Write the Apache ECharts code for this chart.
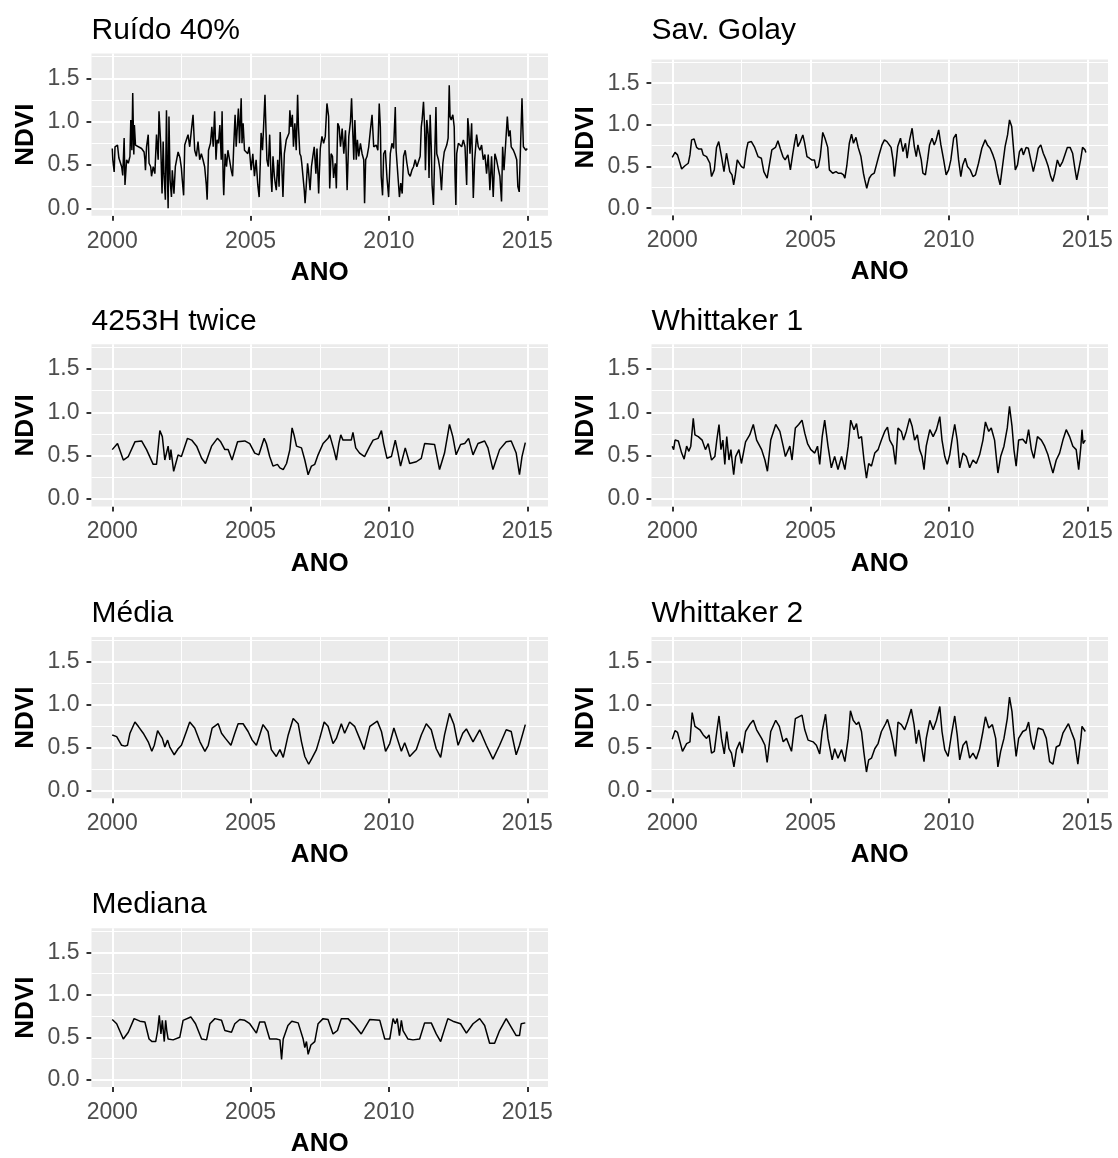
<!DOCTYPE html>
<html><head><meta charset="utf-8">
<script src="https://cdn.jsdelivr.net/npm/echarts@6/dist/echarts.min.js"></script>
<style>html,body{margin:0;padding:0;background:#fff}#c{width:1118px;height:1158px}</style>
</head><body><div id="c"></div>
<script>
// ---- tick values ----
const xTicks = [2000, 2005, 2010, 2015];
const xMinor = [2002.5, 2007.5, 2012.5];
const yTicks = [0, 0.5, 1.0, 1.5];
const yMinor = [0.25, 0.75, 1.25, 1.75];
const panelTitles = ['Ruído 40%', 'Sav. Golay', '4253H twice', 'Whittaker 1', 'Média', 'Whittaker 2', 'Mediana'];

// ---- series values [ano, NDVI] ----
const ruido40 = [[2000.00,0.69],[2000.02,0.56],[2000.07,0.42],[2000.10,0.71],[2000.19,0.73],[2000.24,0.58],[2000.34,0.48],[2000.38,0.38],[2000.43,0.81],[2000.46,0.27],[2000.52,0.56],[2000.58,0.52],[2000.64,0.60],[2000.67,1.02],[2000.71,0.67],[2000.74,1.33],[2000.78,0.62],[2000.80,0.96],[2000.84,0.73],[2000.91,0.73],[2001.06,0.69],[2001.15,0.65],[2001.18,0.56],[2001.20,0.44],[2001.24,0.71],[2001.30,0.85],[2001.33,0.52],[2001.39,0.48],[2001.42,0.37],[2001.48,0.48],[2001.54,0.40],[2001.60,0.85],[2001.66,0.56],[2001.69,1.12],[2001.75,0.75],[2001.80,0.17],[2001.84,0.77],[2001.87,0.40],[2001.92,0.10],[2001.96,1.13],[2001.99,0.44],[2002.02,0.00],[2002.05,1.06],[2002.09,0.33],[2002.14,0.13],[2002.17,0.44],[2002.23,0.17],[2002.28,0.48],[2002.38,0.65],[2002.45,0.58],[2002.50,0.46],[2002.53,0.33],[2002.58,0.15],[2002.62,0.73],[2002.68,0.79],[2002.74,0.85],[2002.80,0.71],[2002.86,0.90],[2002.92,1.08],[2002.98,0.67],[2003.04,0.60],[2003.10,0.77],[2003.16,0.56],[2003.22,0.63],[2003.28,0.56],[2003.34,0.48],[2003.40,0.27],[2003.43,0.10],[2003.48,0.67],[2003.55,0.75],[2003.60,0.94],[2003.65,0.71],[2003.70,1.12],[2003.75,0.56],[2003.79,0.79],[2003.84,0.75],[2003.89,0.96],[2003.94,0.56],[2003.97,1.12],[2004.01,0.33],[2004.03,0.15],[2004.08,0.63],[2004.13,0.48],[2004.18,0.67],[2004.24,0.56],[2004.30,0.44],[2004.35,0.37],[2004.39,0.71],[2004.44,1.08],[2004.48,0.71],[2004.51,0.88],[2004.56,1.15],[2004.60,0.75],[2004.66,1.27],[2004.69,0.75],[2004.73,0.98],[2004.78,0.67],[2004.84,0.67],[2004.90,0.63],[2004.95,0.71],[2005.02,0.44],[2005.08,0.63],[2005.14,0.37],[2005.20,0.56],[2005.26,0.27],[2005.31,0.13],[2005.35,0.52],[2005.38,0.87],[2005.43,0.67],[2005.47,0.94],[2005.52,1.31],[2005.56,0.87],[2005.59,0.56],[2005.64,0.48],[2005.69,0.85],[2005.74,0.35],[2005.77,0.19],[2005.81,0.60],[2005.86,0.37],[2005.89,0.29],[2005.93,0.21],[2005.98,0.56],[2006.03,0.25],[2006.07,0.88],[2006.12,0.56],[2006.17,0.13],[2006.22,0.63],[2006.29,0.79],[2006.34,0.79],[2006.39,0.87],[2006.42,1.13],[2006.46,0.94],[2006.51,1.08],[2006.55,0.71],[2006.60,0.98],[2006.65,0.67],[2006.70,1.31],[2006.73,0.94],[2006.78,0.63],[2006.82,0.60],[2006.85,0.52],[2006.89,0.50],[2006.94,0.21],[2006.97,0.06],[2007.01,0.25],[2007.06,0.52],[2007.09,0.44],[2007.15,0.21],[2007.20,0.48],[2007.25,0.60],[2007.30,0.71],[2007.36,0.40],[2007.40,0.69],[2007.46,0.17],[2007.52,0.69],[2007.58,0.83],[2007.64,0.75],[2007.70,0.83],[2007.76,1.21],[2007.82,1.06],[2007.86,0.23],[2007.91,0.63],[2007.96,0.60],[2008.00,0.35],[2008.06,0.52],[2008.10,0.23],[2008.15,0.98],[2008.20,0.94],[2008.25,0.71],[2008.31,0.92],[2008.37,0.63],[2008.43,0.90],[2008.49,0.21],[2008.55,0.83],[2008.61,1.00],[2008.65,1.27],[2008.70,1.27],[2008.73,0.56],[2008.77,1.02],[2008.82,0.56],[2008.86,0.79],[2008.91,0.60],[2008.97,0.75],[2009.03,0.63],[2009.09,0.56],[2009.12,0.06],[2009.16,0.56],[2009.21,0.60],[2009.27,0.71],[2009.33,0.90],[2009.39,1.08],[2009.45,0.71],[2009.54,0.73],[2009.60,0.67],[2009.65,1.21],[2009.69,0.94],[2009.72,0.37],[2009.77,0.15],[2009.81,0.63],[2009.87,0.67],[2009.93,0.35],[2009.99,0.13],[2010.05,0.63],[2010.11,0.75],[2010.17,0.69],[2010.23,1.17],[2010.26,0.67],[2010.31,0.67],[2010.38,0.13],[2010.43,0.29],[2010.48,0.17],[2010.53,0.60],[2010.59,0.67],[2010.65,0.52],[2010.71,0.40],[2010.77,0.37],[2010.83,0.44],[2010.89,0.48],[2010.95,0.56],[2011.01,0.48],[2011.07,0.46],[2011.13,0.60],[2011.17,0.94],[2011.20,1.02],[2011.25,1.23],[2011.29,0.94],[2011.32,0.44],[2011.37,1.02],[2011.42,0.85],[2011.45,0.35],[2011.49,1.08],[2011.53,0.71],[2011.56,0.27],[2011.61,0.04],[2011.66,0.67],[2011.70,1.17],[2011.73,0.63],[2011.79,0.56],[2011.85,0.44],[2011.90,0.21],[2011.95,0.52],[2012.00,0.65],[2012.04,0.63],[2012.09,0.73],[2012.14,0.81],[2012.18,1.42],[2012.21,1.06],[2012.25,1.02],[2012.31,1.08],[2012.36,0.94],[2012.39,0.37],[2012.42,0.04],[2012.45,0.63],[2012.51,0.75],[2012.57,0.75],[2012.63,0.71],[2012.69,0.79],[2012.75,0.71],[2012.81,0.27],[2012.85,1.04],[2012.88,0.94],[2012.93,0.63],[2012.99,0.98],[2013.05,0.12],[2013.10,0.56],[2013.17,0.85],[2013.23,0.71],[2013.29,0.67],[2013.35,0.73],[2013.41,0.56],[2013.47,0.62],[2013.53,0.40],[2013.59,0.62],[2013.65,0.21],[2013.71,0.60],[2013.77,0.13],[2013.83,0.63],[2013.89,0.56],[2013.95,0.46],[2014.01,0.37],[2014.07,0.08],[2014.11,0.71],[2014.16,0.44],[2014.22,0.75],[2014.28,1.06],[2014.33,0.83],[2014.38,0.90],[2014.42,0.71],[2014.50,0.67],[2014.56,0.62],[2014.62,0.56],[2014.66,0.25],[2014.71,0.19],[2014.76,0.75],[2014.81,1.27],[2014.86,0.71],[2014.92,0.73],[2014.95,0.67],[2015.00,0.69]];

const savGolay = [[2000.00,0.61],[2000.10,0.67],[2000.19,0.64],[2000.28,0.54],[2000.34,0.47],[2000.46,0.51],[2000.58,0.54],[2000.64,0.64],[2000.70,0.82],[2000.79,0.83],[2000.88,0.73],[2000.96,0.71],[2001.06,0.71],[2001.12,0.64],[2001.24,0.62],[2001.36,0.54],[2001.42,0.38],[2001.52,0.46],[2001.60,0.73],[2001.68,0.80],[2001.78,0.62],[2001.87,0.44],[2001.96,0.66],[2002.02,0.68],[2002.08,0.44],[2002.16,0.40],[2002.22,0.28],[2002.28,0.40],[2002.35,0.58],[2002.40,0.58],[2002.50,0.50],[2002.59,0.48],[2002.68,0.70],[2002.74,0.79],[2002.86,0.80],[2002.98,0.73],[2003.10,0.62],[2003.22,0.60],[2003.31,0.44],[2003.43,0.36],[2003.52,0.54],[2003.60,0.70],[2003.73,0.73],[2003.82,0.81],[2003.91,0.71],[2004.00,0.62],[2004.08,0.58],[2004.18,0.64],[2004.27,0.46],[2004.36,0.66],[2004.42,0.78],[2004.48,0.89],[2004.54,0.74],[2004.63,0.80],[2004.72,0.88],[2004.78,0.79],[2004.87,0.62],[2004.96,0.60],[2005.04,0.58],[2005.14,0.58],[2005.20,0.48],[2005.28,0.50],[2005.35,0.62],[2005.44,0.91],[2005.52,0.84],[2005.62,0.73],[2005.68,0.46],[2005.80,0.42],[2005.92,0.44],[2006.00,0.42],[2006.10,0.42],[2006.19,0.40],[2006.24,0.36],[2006.31,0.51],[2006.40,0.78],[2006.48,0.89],[2006.55,0.78],[2006.64,0.85],[2006.72,0.73],[2006.82,0.62],[2006.91,0.42],[2006.96,0.34],[2007.03,0.24],[2007.12,0.36],[2007.20,0.40],[2007.30,0.42],[2007.38,0.52],[2007.46,0.62],[2007.58,0.76],[2007.67,0.82],[2007.76,0.80],[2007.82,0.80],[2007.91,0.73],[2007.98,0.58],[2008.03,0.38],[2008.10,0.58],[2008.15,0.74],[2008.25,0.84],[2008.34,0.68],[2008.43,0.78],[2008.49,0.60],[2008.58,0.82],[2008.67,0.96],[2008.75,0.74],[2008.82,0.62],[2008.88,0.76],[2008.94,0.74],[2009.00,0.58],[2009.06,0.42],[2009.15,0.40],[2009.23,0.58],[2009.30,0.76],[2009.39,0.84],[2009.47,0.76],[2009.54,0.82],[2009.63,0.94],[2009.71,0.76],[2009.81,0.58],[2009.90,0.40],[2009.99,0.46],[2010.07,0.58],[2010.17,0.84],[2010.26,0.89],[2010.35,0.58],[2010.43,0.38],[2010.50,0.52],[2010.59,0.60],[2010.67,0.50],[2010.77,0.46],[2010.87,0.38],[2010.96,0.40],[2011.07,0.54],[2011.19,0.72],[2011.31,0.82],[2011.39,0.76],[2011.49,0.72],[2011.59,0.64],[2011.67,0.56],[2011.75,0.42],[2011.85,0.28],[2011.92,0.46],[2012.03,0.74],[2012.12,0.88],[2012.19,1.06],[2012.27,0.98],[2012.33,0.74],[2012.40,0.46],[2012.48,0.52],[2012.55,0.68],[2012.63,0.72],[2012.69,0.64],[2012.79,0.73],[2012.87,0.72],[2012.96,0.58],[2013.05,0.44],[2013.15,0.58],[2013.23,0.72],[2013.32,0.76],[2013.41,0.66],[2013.51,0.58],[2013.59,0.50],[2013.68,0.38],[2013.75,0.32],[2013.83,0.42],[2013.92,0.58],[2014.01,0.50],[2014.11,0.56],[2014.19,0.64],[2014.28,0.73],[2014.38,0.73],[2014.47,0.66],[2014.56,0.46],[2014.62,0.34],[2014.69,0.46],[2014.76,0.58],[2014.83,0.73],[2014.92,0.70],[2014.95,0.67]];

const h4253 = [[2000.00,0.57],[2000.19,0.64],[2000.40,0.45],[2000.58,0.49],[2000.82,0.66],[2001.06,0.67],[2001.24,0.57],[2001.48,0.40],[2001.60,0.40],[2001.72,0.79],[2001.81,0.72],[2001.90,0.45],[2002.02,0.61],[2002.08,0.45],[2002.12,0.57],[2002.22,0.32],[2002.38,0.51],[2002.50,0.49],[2002.72,0.70],[2002.87,0.68],[2003.05,0.61],[2003.23,0.47],[2003.37,0.41],[2003.59,0.61],[2003.80,0.70],[2003.92,0.66],[2004.07,0.57],[2004.19,0.57],[2004.33,0.45],[2004.53,0.66],[2004.79,0.67],[2004.97,0.64],[2005.15,0.53],[2005.30,0.51],[2005.49,0.70],[2005.57,0.64],[2005.69,0.49],[2005.81,0.38],[2005.97,0.40],[2006.06,0.36],[2006.18,0.34],[2006.30,0.41],[2006.42,0.57],[2006.50,0.82],[2006.57,0.74],[2006.66,0.61],[2006.84,0.59],[2006.96,0.45],[2007.08,0.28],[2007.20,0.38],[2007.32,0.40],[2007.44,0.51],[2007.62,0.64],[2007.80,0.70],[2007.86,0.74],[2008.01,0.57],[2008.10,0.45],[2008.19,0.64],[2008.26,0.74],[2008.34,0.68],[2008.64,0.68],[2008.70,0.77],[2008.80,0.59],[2008.94,0.53],[2009.12,0.49],[2009.31,0.61],[2009.43,0.68],[2009.61,0.70],[2009.73,0.79],[2009.81,0.64],[2009.93,0.47],[2010.09,0.49],[2010.23,0.68],[2010.33,0.53],[2010.42,0.38],[2010.59,0.59],[2010.75,0.41],[2010.99,0.43],[2011.17,0.47],[2011.29,0.64],[2011.65,0.63],[2011.83,0.34],[2012.01,0.53],[2012.19,0.86],[2012.31,0.72],[2012.43,0.51],[2012.59,0.63],[2012.74,0.64],[2012.88,0.70],[2013.04,0.51],[2013.22,0.64],[2013.46,0.67],[2013.58,0.59],[2013.76,0.34],[2014.00,0.57],[2014.24,0.66],[2014.42,0.67],[2014.60,0.53],[2014.72,0.28],[2014.81,0.49],[2014.93,0.65]];

const whittaker1 = [[2000.00,0.61],[2000.05,0.57],[2000.10,0.68],[2000.22,0.67],[2000.34,0.53],[2000.43,0.46],[2000.52,0.61],[2000.60,0.55],[2000.67,0.61],[2000.76,0.93],[2000.82,0.74],[2000.94,0.72],[2001.08,0.68],[2001.20,0.57],[2001.30,0.64],[2001.42,0.45],[2001.54,0.49],[2001.61,0.68],[2001.69,0.86],[2001.76,0.57],[2001.83,0.68],[2001.90,0.40],[2001.97,0.72],[2002.05,0.45],[2002.12,0.57],[2002.22,0.28],[2002.29,0.49],[2002.41,0.57],[2002.50,0.41],[2002.65,0.66],[2002.80,0.74],[2002.93,0.86],[2003.05,0.68],[2003.23,0.57],[2003.35,0.45],[2003.44,0.32],[2003.56,0.68],[2003.74,0.86],[2003.89,0.78],[2004.01,0.61],[2004.09,0.49],[2004.25,0.61],[2004.33,0.45],[2004.45,0.82],[2004.57,0.86],[2004.69,0.91],[2004.79,0.76],[2004.89,0.64],[2005.01,0.57],[2005.15,0.53],[2005.25,0.61],[2005.33,0.40],[2005.42,0.72],[2005.51,0.91],[2005.63,0.61],[2005.75,0.36],[2005.87,0.49],[2005.99,0.34],[2006.12,0.49],[2006.24,0.34],[2006.36,0.61],[2006.45,0.91],[2006.57,0.80],[2006.66,0.87],[2006.74,0.70],[2006.84,0.72],[2006.93,0.45],[2007.02,0.24],[2007.10,0.41],[2007.20,0.38],[2007.32,0.53],[2007.44,0.57],[2007.56,0.68],[2007.68,0.78],[2007.78,0.83],[2007.86,0.68],[2007.98,0.61],[2008.07,0.40],[2008.16,0.82],[2008.28,0.78],[2008.36,0.68],[2008.46,0.78],[2008.58,0.93],[2008.67,0.84],[2008.76,0.68],[2008.86,0.74],[2008.94,0.57],[2009.03,0.49],[2009.10,0.34],[2009.18,0.61],[2009.31,0.80],[2009.43,0.72],[2009.55,0.80],[2009.67,0.95],[2009.75,0.68],[2009.85,0.49],[2009.94,0.40],[2010.03,0.51],[2010.11,0.68],[2010.21,0.86],[2010.30,0.68],[2010.39,0.36],[2010.51,0.53],[2010.63,0.49],[2010.75,0.36],[2010.87,0.45],[2010.99,0.41],[2011.11,0.51],[2011.23,0.68],[2011.32,0.89],[2011.44,0.78],[2011.53,0.82],[2011.65,0.68],[2011.77,0.30],[2011.87,0.49],[2011.99,0.61],[2012.11,0.82],[2012.19,1.07],[2012.28,0.84],[2012.35,0.57],[2012.43,0.38],[2012.52,0.68],[2012.67,0.69],[2012.79,0.64],[2012.88,0.80],[2012.98,0.57],[2013.07,0.47],[2013.20,0.72],[2013.34,0.68],[2013.46,0.61],[2013.58,0.51],[2013.69,0.38],[2013.76,0.30],[2013.88,0.45],[2014.00,0.53],[2014.12,0.68],[2014.24,0.80],[2014.36,0.72],[2014.48,0.61],[2014.60,0.57],[2014.69,0.34],[2014.77,0.61],[2014.81,0.80],[2014.85,0.64],[2014.93,0.68]];

const media = [[2000.00,0.65],[2000.16,0.63],[2000.34,0.53],[2000.46,0.52],[2000.55,0.53],[2000.64,0.67],[2000.82,0.80],[2000.94,0.75],[2001.12,0.67],[2001.30,0.57],[2001.43,0.46],[2001.52,0.53],[2001.64,0.70],[2001.73,0.65],[2001.81,0.61],[2001.90,0.51],[2002.00,0.59],[2002.08,0.51],[2002.24,0.42],[2002.38,0.49],[2002.50,0.53],[2002.68,0.69],[2002.80,0.80],[2002.98,0.73],[2003.17,0.57],[2003.35,0.46],[2003.47,0.53],[2003.61,0.73],[2003.83,0.78],[2003.95,0.67],[2004.09,0.61],[2004.29,0.53],[2004.43,0.67],[2004.55,0.78],[2004.73,0.78],[2004.91,0.69],[2005.06,0.59],[2005.21,0.53],[2005.33,0.65],[2005.45,0.77],[2005.63,0.69],[2005.75,0.48],[2005.93,0.40],[2006.06,0.48],[2006.18,0.39],[2006.36,0.65],[2006.54,0.84],[2006.72,0.78],[2006.84,0.57],[2006.96,0.40],[2007.10,0.31],[2007.22,0.38],[2007.38,0.48],[2007.50,0.61],[2007.66,0.80],[2007.80,0.75],[2007.98,0.55],[2008.10,0.61],[2008.28,0.78],[2008.40,0.67],[2008.58,0.80],[2008.76,0.75],[2008.94,0.61],[2009.10,0.48],[2009.31,0.75],[2009.58,0.81],[2009.73,0.69],[2009.88,0.46],[2010.03,0.55],[2010.18,0.73],[2010.30,0.61],[2010.45,0.46],[2010.57,0.56],[2010.75,0.40],[2010.99,0.48],[2011.17,0.65],[2011.35,0.78],[2011.53,0.71],[2011.71,0.49],[2011.87,0.39],[2012.01,0.65],[2012.19,0.90],[2012.35,0.77],[2012.50,0.53],[2012.67,0.67],[2012.80,0.72],[2013.04,0.57],[2013.28,0.71],[2013.52,0.53],[2013.76,0.37],[2014.00,0.53],[2014.24,0.71],[2014.42,0.69],[2014.60,0.42],[2014.72,0.53],[2014.93,0.77]];

const whittaker2 = [[2000.00,0.60],[2000.10,0.70],[2000.19,0.68],[2000.28,0.57],[2000.37,0.46],[2000.52,0.55],[2000.64,0.57],[2000.72,0.91],[2000.82,0.75],[2001.00,0.71],[2001.12,0.65],[2001.24,0.61],[2001.33,0.65],[2001.42,0.44],[2001.52,0.46],[2001.61,0.69],[2001.69,0.87],[2001.78,0.61],[2001.88,0.43],[2001.97,0.69],[2002.05,0.49],[2002.14,0.44],[2002.23,0.28],[2002.32,0.48],[2002.44,0.57],[2002.53,0.44],[2002.65,0.69],[2002.80,0.77],[2002.93,0.82],[2003.05,0.71],[2003.23,0.61],[2003.35,0.53],[2003.43,0.33],[2003.56,0.69],[2003.74,0.82],[2003.87,0.75],[2004.01,0.57],[2004.13,0.61],[2004.31,0.46],[2004.45,0.84],[2004.57,0.86],[2004.69,0.88],[2004.79,0.71],[2004.91,0.59],[2005.09,0.57],[2005.21,0.53],[2005.33,0.43],[2005.42,0.69],[2005.54,0.89],[2005.63,0.61],[2005.78,0.36],[2005.87,0.49],[2005.99,0.38],[2006.12,0.48],[2006.24,0.34],[2006.36,0.61],[2006.44,0.93],[2006.54,0.82],[2006.66,0.77],[2006.74,0.80],[2006.84,0.69],[2006.93,0.44],[2007.02,0.22],[2007.10,0.36],[2007.20,0.38],[2007.32,0.49],[2007.44,0.55],[2007.56,0.69],[2007.71,0.78],[2007.78,0.83],[2007.90,0.69],[2007.98,0.57],[2008.07,0.40],[2008.16,0.80],[2008.28,0.77],[2008.40,0.71],[2008.50,0.80],[2008.64,0.95],[2008.74,0.77],[2008.82,0.55],[2008.91,0.71],[2009.00,0.53],[2009.10,0.34],[2009.18,0.61],[2009.31,0.82],[2009.43,0.71],[2009.55,0.82],[2009.67,0.98],[2009.75,0.69],[2009.85,0.48],[2009.97,0.40],[2010.09,0.65],[2010.21,0.87],[2010.30,0.65],[2010.39,0.36],[2010.51,0.53],[2010.63,0.58],[2010.75,0.38],[2010.87,0.44],[2010.99,0.37],[2011.11,0.49],[2011.23,0.69],[2011.32,0.86],[2011.44,0.73],[2011.57,0.77],[2011.69,0.61],[2011.77,0.28],[2011.87,0.46],[2011.99,0.61],[2012.11,0.84],[2012.19,1.09],[2012.28,0.92],[2012.35,0.65],[2012.43,0.40],[2012.52,0.61],[2012.67,0.69],[2012.79,0.71],[2012.88,0.80],[2012.98,0.57],[2013.07,0.48],[2013.22,0.73],[2013.40,0.71],[2013.52,0.61],[2013.64,0.34],[2013.76,0.31],[2013.88,0.51],[2014.00,0.53],[2014.12,0.67],[2014.32,0.78],[2014.42,0.69],[2014.54,0.59],[2014.66,0.31],[2014.77,0.61],[2014.81,0.75],[2014.93,0.69]];

const mediana = [[2000.00,0.71],[2000.16,0.66],[2000.40,0.48],[2000.58,0.56],[2000.79,0.72],[2001.00,0.69],[2001.18,0.68],[2001.33,0.48],[2001.44,0.45],[2001.57,0.45],[2001.64,0.58],[2001.70,0.76],[2001.76,0.54],[2001.81,0.70],[2001.88,0.45],[2001.93,0.70],[2001.97,0.58],[2002.02,0.48],[2002.20,0.47],[2002.44,0.50],[2002.56,0.70],[2002.84,0.74],[2003.01,0.66],[2003.23,0.48],[2003.41,0.47],[2003.53,0.66],[2003.71,0.72],[2003.95,0.70],[2004.07,0.58],[2004.31,0.56],[2004.43,0.66],[2004.61,0.71],[2004.79,0.70],[2004.97,0.66],[2005.21,0.55],[2005.33,0.68],[2005.51,0.68],[2005.69,0.48],[2005.93,0.48],[2006.06,0.47],[2006.12,0.24],[2006.18,0.48],[2006.35,0.64],[2006.49,0.69],[2006.72,0.67],[2006.90,0.48],[2006.96,0.38],[2007.02,0.45],[2007.08,0.30],[2007.18,0.41],[2007.32,0.45],[2007.44,0.66],[2007.62,0.72],[2007.80,0.71],[2007.98,0.54],[2008.14,0.58],[2008.28,0.72],[2008.52,0.72],[2008.76,0.64],[2009.00,0.54],[2009.31,0.71],[2009.67,0.70],[2009.85,0.48],[2010.03,0.48],[2010.15,0.72],[2010.23,0.66],[2010.30,0.72],[2010.38,0.52],[2010.45,0.70],[2010.51,0.58],[2010.69,0.48],[2010.87,0.47],[2011.11,0.48],[2011.29,0.67],[2011.53,0.67],[2011.71,0.54],[2011.87,0.45],[2012.13,0.72],[2012.31,0.69],[2012.59,0.66],[2012.80,0.55],[2013.04,0.66],[2013.28,0.72],[2013.46,0.64],[2013.64,0.43],[2013.82,0.43],[2014.00,0.58],[2014.24,0.72],[2014.42,0.62],[2014.60,0.52],[2014.72,0.52],[2014.78,0.66],[2014.93,0.67]];

const seriesData = [ruido40, savGolay, h4253, whittaker1, media, whittaker2, mediana];

// ---- layout (pixels) ----
const FONT = 'Liberation Sans, Arial, sans-serif';
const PW = 456.5;
const layout = [
  {left: 91.5,  top: 53.6,  height: 162.1, titleY: 31.0},
  {left: 651.5, top: 59.5,  height: 155.8, titleY: 31.0},
  {left: 91.5,  top: 344.3, height: 162.1, titleY: 321.5},
  {left: 651.5, top: 344.3, height: 162.1, titleY: 321.5},
  {left: 91.5,  top: 637.1, height: 161.2, titleY: 613.4},
  {left: 651.5, top: 637.1, height: 161.2, titleY: 613.4},
  {left: 91.5,  top: 928.2, height: 160.8, titleY: 904.5}
];

const gridLines = [];
xTicks.forEach(v => gridLines.push({xAxis: v, lineStyle: {width: 2}}));
xMinor.forEach(v => gridLines.push({xAxis: v, lineStyle: {width: 1}}));
yTicks.forEach(v => gridLines.push({yAxis: v, lineStyle: {width: 2}}));
yMinor.forEach(v => gridLines.push({yAxis: v, lineStyle: {width: 1}}));

const grids = [], xAxes = [], yAxes = [], series = [], graphics = [];
layout.forEach((L, i) => {
  grids.push({left: L.left, top: L.top, width: PW, height: L.height, show: true,
    backgroundColor: '#EBEBEB', borderWidth: 0, containLabel: false});
  xAxes.push({type: 'value', gridIndex: i, min: 1999.25, max: 2015.75,
    axisLine: {show: false, onZero: false},
    axisTick: {show: true, length: 5, customValues: xTicks, lineStyle: {color: '#333333', width: 2}},
    axisLabel: {show: true, customValues: xTicks, color: '#4D4D4D', fontSize: 23, fontFamily: FONT, margin: 14,
      formatter: v => String(v)},
    splitLine: {show: false},
    name: 'ANO', nameLocation: 'middle', nameGap: 44,
    nameTextStyle: {fontWeight: 'bold', fontSize: 26, color: '#000', fontFamily: FONT}
  });
  yAxes.push({type: 'value', gridIndex: i, min: -0.085, max: 1.785,
    axisLine: {show: false, onZero: false},
    axisTick: {show: true, length: 5, customValues: yTicks, lineStyle: {color: '#333333', width: 2}},
    axisLabel: {show: true, customValues: yTicks, color: '#4D4D4D', fontSize: 23, fontFamily: FONT, margin: 12,
      padding: [3, 0, 0, 0], formatter: v => v.toFixed(1)},
    splitLine: {show: false},
    name: 'NDVI', nameLocation: 'middle', nameGap: 53, nameRotate: 90,
    nameTextStyle: {fontWeight: 'bold', fontSize: 26, color: '#000', fontFamily: FONT}
  });
  series.push({type: 'line', xAxisIndex: i, yAxisIndex: i, data: seriesData[i], z: 10,
    showSymbol: false, symbol: 'none', lineStyle: {color: '#000', width: 1.5}, animation: false,
    markLine: {silent: true, symbol: ['none', 'none'], animation: false, label: {show: false},
      lineStyle: {color: '#FFFFFF', type: 'solid'}, emphasis: {disabled: true}, data: gridLines}
  });
  graphics.push({type: 'text', x: L.left, y: L.titleY,
    style: {text: panelTitles[i], fill: '#000', font: '30px ' + FONT, textAlign: 'left', textVerticalAlign: 'middle'}});
});

const chart = echarts.init(document.getElementById('c'), null, {renderer: 'canvas'});
chart.setOption({animation: false, backgroundColor: '#FFFFFF',
  grid: grids, xAxis: xAxes, yAxis: yAxes, series: series, graphic: graphics});
</script></body></html>
